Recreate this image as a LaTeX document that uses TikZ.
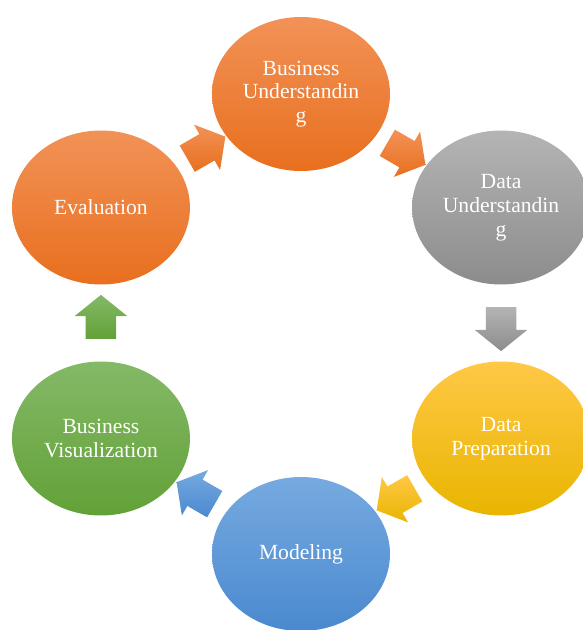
\documentclass[tikz,border=0pt]{standalone}
\usepackage{fontspec}
\setmainfont{Liberation Serif}
\usetikzlibrary{shapes.geometric,shapes.arrows,calc}

\definecolor{orangetop}{HTML}{F29257}
\definecolor{orangebot}{HTML}{E86F1E}
\definecolor{graytop}{HTML}{B4B4B4}
\definecolor{graybot}{HTML}{8C8C8C}
\definecolor{yellowtop}{HTML}{FFC846}
\definecolor{yellowbot}{HTML}{E9B500}
\definecolor{bluetop}{HTML}{76AAE0}
\definecolor{bluebot}{HTML}{4A89CF}
\definecolor{greentop}{HTML}{84B967}
\definecolor{greenbot}{HTML}{62A137}

\begin{document}
\begin{tikzpicture}[x=1pt,y=1pt,
    phase/.style={ellipse,minimum width=178pt,minimum height=154pt,inner sep=0pt,
      text=white,align=center,font=\fontsize{21.6}{23.8}\selectfont},
    flowarrow/.style={single arrow,minimum height=44pt,inner xsep=0pt,inner ysep=15pt,
      single arrow head extend=11pt,single arrow tip angle=102}]
    \pgfmathsetmacro{\cycleradius}{231}
    \useasboundingbox (0,0) rectangle (583,630);
    \clip (0,0) rectangle (583,630);
    \coordinate (hub) at (301,307);
    % the six phases
    \node[phase,top color=orangetop,bottom color=orangebot] (bizund) at ($(hub)+(90:\cycleradius)+(0,-2)$) {Business\\Understandin\\g};
    \node[phase,top color=graytop,bottom color=graybot] (dataund) at ($(hub)+(30:\cycleradius)$) {Data\\Understandin\\g};
    \node[phase,top color=yellowtop,bottom color=yellowbot] (dataprep) at ($(hub)+(-30:\cycleradius)$) {Data\\Preparation};
    \node[phase,top color=bluetop,bottom color=bluebot] (modeling) at ($(hub)+(-90:\cycleradius)$) {Modeling};
    \node[phase,top color=greentop,bottom color=greenbot] (bizvis) at ($(hub)+(210:\cycleradius)$) {Business\\Visualization};
    \node[phase,top color=orangetop,bottom color=orangebot] (evaluation) at ($(hub)+(150:\cycleradius)$) {Evaluation};
    % arrows between them
    \node[flowarrow,top color=orangetop,bottom color=orangebot,rotate=30] (evaltobiz) at ($(evaluation)!0.5!(bizund)$) {};
    \node[flowarrow,top color=orangetop,bottom color=orangebot,rotate=-30] (biztodata) at ($(bizund)!0.5!(dataund)$) {};
    \node[flowarrow,top color=graytop,bottom color=graybot,rotate=-90] (undtoprep) at ($(dataund)!0.5!(dataprep)$) {};
    \node[flowarrow,top color=yellowtop,bottom color=yellowbot,rotate=-150] (preptomod) at ($(dataprep)!0.5!(modeling)$) {};
    \node[flowarrow,top color=bluetop,bottom color=bluebot,rotate=150] (modtovis) at ($(modeling)!0.5!(bizvis)$) {};
    \node[flowarrow,top color=greentop,bottom color=greenbot,rotate=90] (vistoeval) at ($(bizvis)!0.5!(evaluation)$) {};
\end{tikzpicture}
\end{document}
